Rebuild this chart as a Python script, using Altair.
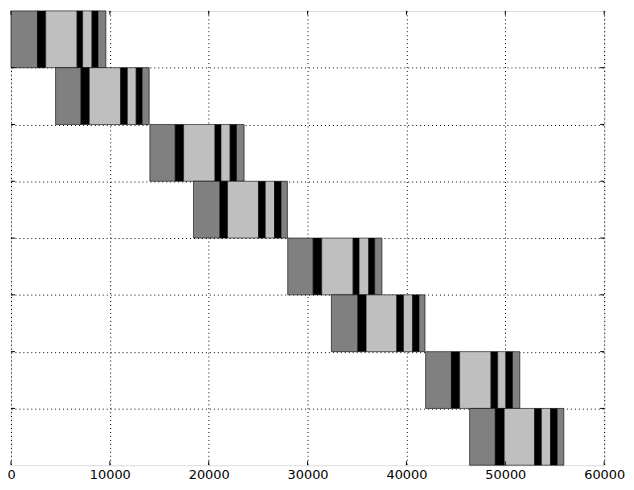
import altair as alt
import pandas as pd

# segment boundaries for each of the 8 rows (top to bottom)
row1 = [0, 2680, 3510, 6690, 7250, 8200, 8800, 9600]
row2 = [4510, 7090, 7920, 11100, 11770, 12670, 13270, 13980]
row3 = [14050, 16620, 17460, 20640, 21240, 22170, 22810, 23580]
row4 = [18460, 21140, 21900, 25050, 25720, 26660, 27320, 27960]
row5 = [27990, 30570, 31430, 34610, 35210, 36190, 36790, 37520]
row6 = [32410, 35090, 35920, 39030, 39700, 40630, 41270, 41880]
row7 = [41940, 44550, 45380, 48560, 49230, 50060, 50730, 51470]
row8 = [46390, 48990, 49890, 52970, 53650, 54580, 55250, 55920]
rows = [row1, row2, row3, row4, row5, row6, row7, row8]

segment_kinds = ["dark", "black", "light", "black", "light", "black", "dark"]
kind_names = ["dark", "black", "light"]
kind_colors = ["#808080", "#000000", "#bfbfbf"]

x_ticks = [0, 10000, 20000, 30000, 40000, 50000, 60000]
y_ticks = [1, 2, 3, 4, 5, 6, 7]

recs = []
n = len(rows)
for i, b in enumerate(rows):
    for j, kind in enumerate(segment_kinds):
        recs.append({"x": b[j], "x2": b[j + 1], "y": n - 1 - i, "y2": n - i, "kind": kind})
df = pd.DataFrame(recs)

W, H = 598, 458

xscale = alt.Scale(domain=[0, 60000], nice=False, zero=False)
yscale = alt.Scale(domain=[0, 8], nice=False, zero=False)

bars = alt.Chart(df).mark_rect(stroke="black", strokeWidth=0.6).encode(
    x=alt.X("x:Q", scale=xscale, axis=alt.Axis(
        values=x_ticks, format="d", title=None, grid=True, gridColor="black",
        gridDash=[1, 3], gridWidth=1, ticks=False, domain=False, labelPadding=3,
        labelFont="DejaVu Sans", labelFontSize=13, labelColor="black",
        labelFlush=False, labelOverlap=False)),
    x2="x2:Q",
    y=alt.Y("y:Q", scale=yscale, axis=alt.Axis(
        values=y_ticks, title=None, labels=False, ticks=False, domain=False,
        grid=True, gridColor="black", gridDash=[1, 3], gridWidth=1)),
    y2="y2:Q",
    color=alt.Color("kind:N", scale=alt.Scale(domain=kind_names, range=kind_colors), legend=None),
)

xt = pd.DataFrame({"v": x_ticks})
yt = pd.DataFrame({"v": y_ticks})
tick_b = alt.Chart(xt).mark_rule(color="black", strokeWidth=1).encode(
    x=alt.X("v:Q", scale=xscale), y=alt.value(H - 4), y2=alt.value(H))
tick_t = alt.Chart(xt).mark_rule(color="black", strokeWidth=1).encode(
    x=alt.X("v:Q", scale=xscale), y=alt.value(0), y2=alt.value(4))
tick_l = alt.Chart(yt).mark_rule(color="black", strokeWidth=1).encode(
    y=alt.Y("v:Q", scale=yscale), x=alt.value(0), x2=alt.value(4))
tick_r = alt.Chart(yt).mark_rule(color="black", strokeWidth=1).encode(
    y=alt.Y("v:Q", scale=yscale), x=alt.value(W - 4), x2=alt.value(W))

chart = alt.layer(bars, tick_b, tick_t, tick_l, tick_r).properties(
    width=W, height=H,
    autosize=alt.AutoSizeParams(type="none"),
    padding={"left": 3, "top": 1, "right": 22, "bottom": 14},
).configure_view(stroke="black", strokeWidth=1.2).configure(background="white")

chart.save("out.html", embed_options={"renderer": "svg", "actions": False})
